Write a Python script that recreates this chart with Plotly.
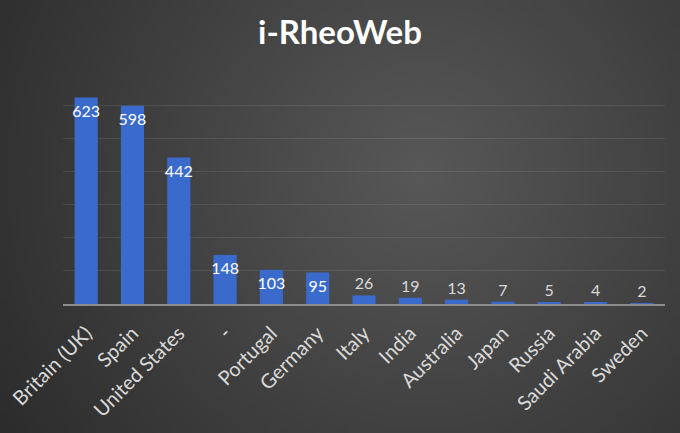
import base64
import struct
import zlib

import plotly.graph_objects as go

countries = [
    "Britain (UK)", "Spain", "United States", "-", "Portugal", "Germany", "Italy",
    "India", "Australia", "Japan", "Russia", "Saudi Arabia", "Sweden",
]
visits = [623, 598, 442, 148, 103, 95, 26, 19, 13, 7, 5, 4, 2]

W, H = 680, 433
margin = dict(l=63, r=15, t=72, b=129)


def radial_png(w, h, cx, cy, inner, outer):
    # small radial gradient used as the chart background
    rows = b""
    rmax = ((max(cx, w - cx)) ** 2 + (max(cy, h - cy)) ** 2) ** 0.5
    for j in range(h):
        row = b"\x00"
        for i in range(w):
            t = min(1.0, (((i - cx) ** 2 + (j - cy) ** 2) ** 0.5) / rmax)
            v = int(inner + (outer - inner) * t)
            row += bytes((v, v, v))
        rows += row

    def chunk(tag, data):
        c = struct.pack(">I", len(data)) + tag + data
        return c + struct.pack(">I", zlib.crc32(tag + data) & 0xFFFFFFFF)

    png = b"\x89PNG\r\n\x1a\n"
    png += chunk(b"IHDR", struct.pack(">IIBBBBB", w, h, 8, 2, 0, 0, 0))
    png += chunk(b"IDAT", zlib.compress(rows, 9))
    png += chunk(b"IEND", b"")
    return "data:image/png;base64," + base64.b64encode(png).decode()


bg = radial_png(136, 87, 84, 34, 0x58, 0x2c)

# tall bars get their label inside the top, short ones above
positions = ["inside" if v > 50 else "outside" for v in visits]

fig = go.Figure(
    go.Bar(
        x=countries,
        y=visits,
        width=0.5,
        marker=dict(color="#3a6acb", line=dict(width=0)),
        text=visits,
        textposition=positions,
        textangle=0,
        constraintext="none",
        insidetextanchor="end",
        insidetextfont=dict(family="Lato", color="white", size=16),
        outsidetextfont=dict(family="Lato", color="#d9d9d9", size=16),
        cliponaxis=False,
    )
)

pw = W - margin["l"] - margin["r"]
ph = H - margin["t"] - margin["b"]
fig.add_layout_image(
    source=bg,
    xref="paper",
    yref="paper",
    x=-margin["l"] / pw,
    y=1 + margin["t"] / ph,
    sizex=W / pw,
    sizey=H / ph,
    sizing="stretch",
    layer="below",
    xanchor="left",
    yanchor="top",
)

fig.update_layout(
    width=W,
    height=H,
    margin=margin,
    paper_bgcolor="#3c3c3c",
    plot_bgcolor="rgba(0,0,0,0)",
    font=dict(family="Lato", color="#d9d9d9"),
    title=dict(
        text="<b>i-RheoWeb</b>",
        x=0.5,
        xanchor="center",
        y=0.925,
        yanchor="middle",
        font=dict(family="Lato", size=33, color="white"),
    ),
    showlegend=False,
    bargap=0.5,
)
fig.update_xaxes(
    tickangle=-45,
    tickfont=dict(family="Lato", size=20, color="#d9d9d9"),
    ticklabelstandoff=8,
    showline=True,
    linecolor="#8c8c8c",
    linewidth=1.5,
    showgrid=False,
    ticks="",
    automargin=False,
)
fig.update_yaxes(
    range=[0, 700],
    dtick=100,
    showgrid=True,
    gridcolor="rgba(255,255,255,0.09)",
    gridwidth=1,
    showticklabels=False,
    zeroline=False,
    automargin=False,
)

fig.write_html(
    "out.html",
    config={"displayModeBar": False},
    post_script="document.body.style.margin = '0';",
)
